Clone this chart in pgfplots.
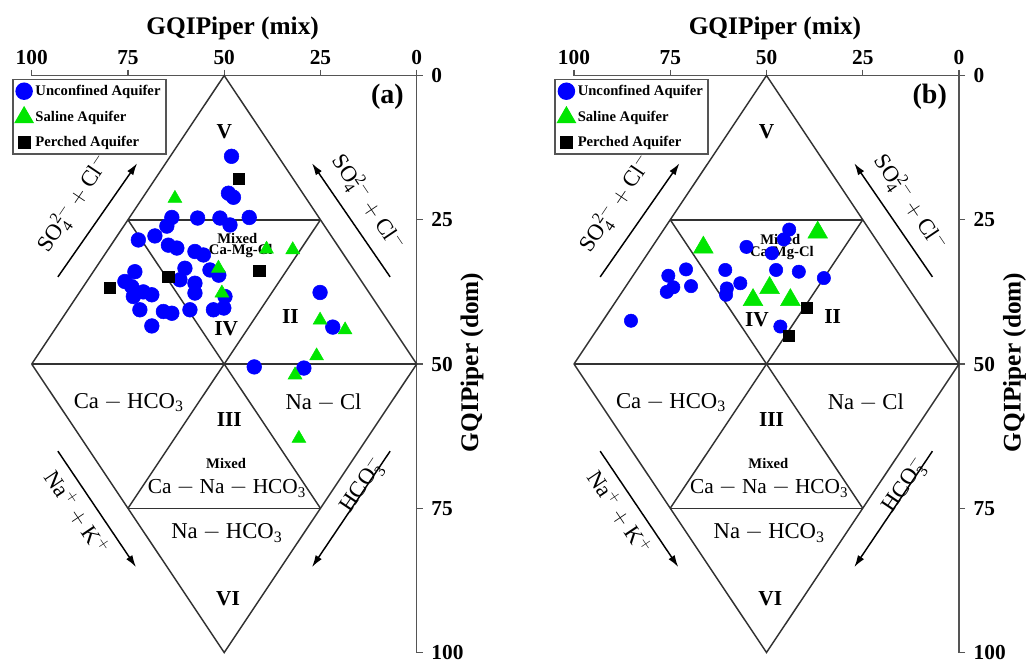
\documentclass[border=0pt]{standalone}
\usepackage{fontspec}
\setmainfont{Liberation Serif}
\usepackage{pgfplots}
\pgfplotsset{compat=1.18}
\usetikzlibrary{arrows.meta}
\definecolor{pgreen}{RGB}{0,230,0}
\definecolor{lgray}{RGB}{50,50,50}
\definecolor{agray}{RGB}{85,85,85}

\pgfplotsset{
  piper/.style={
    scale only axis, width=288.75pt, height=432.75pt,
    xmin=0,xmax=100,ymin=0,ymax=100, x dir=reverse, y dir=reverse,
    axis x line*=top, axis y line*=right,
    xtick={0,25,50,75,100}, ytick={0,25,50,75,100},
    tick align=outside, major tick length=4.5pt,
    every tick/.style={agray, line width=0.9pt},
    axis line style={agray, line width=1.1pt, -},
    ticklabel style={font=\bfseries\fontsize{16}{16}\selectfont},
    yticklabel style={xshift=3pt},
    /pgf/number format/assume math mode=true,
    clip=false,
    legend style={at={(axis cs:105.1,0.6)}, anchor=north west, draw=agray, line width=1.1pt, fill=white,
      font=\bfseries\fontsize{11}{12}\selectfont, row sep=5.5pt, legend cell align=left, inner sep=2pt},
  },
  dline/.style={lgray, line width=1.1pt, mark=none, forget plot},
  bpt/.style={only marks, mark=*, mark size=5.5pt, color=blue, legend image post style={mark size=6pt}},
  gpt/.style={only marks, mark=triangle*, mark size=6pt, color=pgreen, legend image post style={mark size=7.5pt}},
  kpt/.style={only marks, mark=square*, mark size=4.3pt, color=black, legend image post style={mark size=4.3pt}},
}

\newcommand{\piperframe}{%
  \addplot[dline] coordinates {(100,50) (50,0) (0,50) (50,100) (100,50)};
  \addplot[dline] coordinates {(100,50) (0,50)};
  \addplot[dline] coordinates {(75,25) (25,25)};
  \addplot[dline] coordinates {(75,75) (25,75)};
  \addplot[dline] coordinates {(75,25) (25,75)};
  \addplot[dline] coordinates {(25,25) (75,75)};
}
\newcommand{\piperlabels}[1]{%
  \node[font=\bfseries\fontsize{19}{19}\selectfont] at (47.8,-8.2) {GQIPiper (mix)};
  \node[rotate=90, font=\bfseries\fontsize{19}{19}\selectfont] at (-14.4,49.7) {GQIPiper (dom)};
  \node[font=\bfseries\fontsize{21}{21}\selectfont] at (7.6,3.7) {(#1)};
  \node[font=\bfseries\fontsize{16}{16}\selectfont] at (50,9.8) {V};
  \node[font=\bfseries\fontsize{16}{16}\selectfont] at (32.8,41.8) {II};
  \node[font=\bfseries\fontsize{16}{16}\selectfont] at (48.7,59.6) {III};
  \node[font=\bfseries\fontsize{16}{16}\selectfont] at (49,90.7) {VI};
  \node[font=\fontsize{17}{17}\selectfont] at (74.8,56.7) {$\mathrm{Ca-HCO_3}$};
  \node[font=\fontsize{17}{17}\selectfont] at (24.2,56.6) {$\mathrm{Na-Cl}$};
  \node[font=\bfseries\fontsize{11}{11}\selectfont] at (49.5,67.2) {Mixed};
  \node[font=\fontsize{16}{16}\selectfont] at (49.3,71.6) {$\mathrm{Ca-Na-HCO_3}$};
  \node[font=\fontsize{17}{17}\selectfont] at (49.3,79.3) {$\mathrm{Na-HCO_3}$};
  \draw[black, line width=1.1pt, -{Latex[length=9pt,width=5.5pt]}] (93.2,34.9) -- (72.6,15.2);
  \draw[black, line width=1.1pt, -{Latex[length=9pt,width=5.5pt]}] (6.9,34.9) -- (27.2,15.2);
  \draw[black, line width=1.1pt, -{Latex[length=9pt,width=5.5pt]}] (93.2,65.1) -- (72.9,85.2);
  \draw[black, line width=1.1pt, -{Latex[length=9pt,width=5.5pt]}] (6.9,65.1) -- (27.2,85.2);
  \node[rotate=56, font=\fontsize{17}{17}\selectfont] at (89.0,22.2) {$\mathrm{SO_4^{2-}+Cl^-}$};
  \node[rotate=-56, font=\fontsize{17}{17}\selectfont] at (12.7,22.1) {$\mathrm{SO_4^{2-}+Cl^-}$};
  \node[rotate=-56, font=\fontsize{17}{17}\selectfont] at (88.2,75.7) {$\mathrm{Na^+ + K^+}$};
  \node[rotate=56, font=\fontsize{17}{17}\selectfont] at (14.0,71.0) {$\mathrm{HCO_3^-}$};
}

\begin{document}
\begin{tikzpicture}
\path[use as bounding box] (0,0) rectangle (771.75pt,-496.5pt);

% ---------- panel (a)
\begin{axis}[piper, at={(23.78pt,-56.63pt)}, anchor=north west]
\piperframe
\addplot[bpt] coordinates {
(48.1,14.0) (48.9,20.4) (47.6,21.1) (63.6,24.6) (56.9,24.7) (51.1,24.7) (48.5,25.9)
(43.5,24.6) (64.9,26.1) (72.3,28.5) (68.0,27.8) (64.5,29.4) (62.3,29.9) (57.6,30.5)
(55.4,31.1) (60.2,33.4) (61.5,35.4) (73.2,34.0) (75.8,35.7) (74.0,36.6) (71.0,37.5)
(68.8,38.0) (73.6,38.3) (71.9,40.6) (65.8,40.9) (63.6,41.2) (68.8,43.4) (57.6,36.0)
(57.6,37.7) (58.9,40.6) (52.8,40.6) (50.1,40.3) (53.7,33.7) (51.4,34.6) (49.8,38.3)
(25.1,37.6) (21.8,43.6) (42.2,50.5) (29.3,50.7)};
\addlegendentry{Unconfined Aquifer}
\addplot[gpt] coordinates {
(62.8,21.3) (51.5,33.4) (50.6,37.7) (39.0,30.1) (32.2,30.2) (25.1,42.4) (18.6,44.1)
(26.0,48.6) (31.6,51.9) (30.6,62.9)};
\addlegendentry{Saline Aquifer}
\addplot[kpt] coordinates {(46.2,17.9) (40.9,33.8) (64.5,34.9) (79.7,36.8)};
\addlegendentry{Perched Aquifer}
\piperlabels{a}
\node[font=\bfseries\fontsize{16}{16}\selectfont] at (49.5,43.8) {IV};
\node[font=\bfseries\fontsize{11}{11}\selectfont] at (46.6,28.2) {Mixed};
\node[font=\bfseries\fontsize{11}{11}\selectfont] at (45.7,30.4) {Ca-Mg-Cl};
\end{axis}

% ---------- panel (b)
\begin{axis}[piper, at={(430.5pt,-56.63pt)}, anchor=north west]
\piperframe
\addplot[bpt, mark size=5pt] coordinates {
(44.1,26.7) (45.5,28.4) (55.2,29.7) (48.6,30.8) (47.5,33.7) (41.6,34.0) (35.1,35.1)
(60.7,33.7) (56.8,36.0) (60.3,36.9) (60.5,38.0) (46.4,43.5) (70.9,33.6) (75.5,34.7)
(74.2,36.7) (69.6,36.5) (75.9,37.5) (85.2,42.5)};
\addlegendentry{Unconfined Aquifer}
\addplot[gpt, mark size=8.5pt] coordinates {
(36.7,27.2) (66.4,29.8) (49.2,36.8) (53.5,38.9) (43.8,38.9)};
\addlegendentry{Saline Aquifer}
\addplot[kpt, mark size=4.1pt] coordinates {(39.6,40.2) (44.2,45.1)};
\addlegendentry{Perched Aquifer}
\piperlabels{b}
\node[font=\bfseries\fontsize{16}{16}\selectfont] at (52.5,42.3) {IV};
\node[font=\bfseries\fontsize{11}{11}\selectfont] at (46.4,28.5) {Mixed};
\node[font=\bfseries\fontsize{11}{11}\selectfont] at (46.0,30.7) {Ca-Mg-Cl};
\end{axis}
\end{tikzpicture}
\end{document}
